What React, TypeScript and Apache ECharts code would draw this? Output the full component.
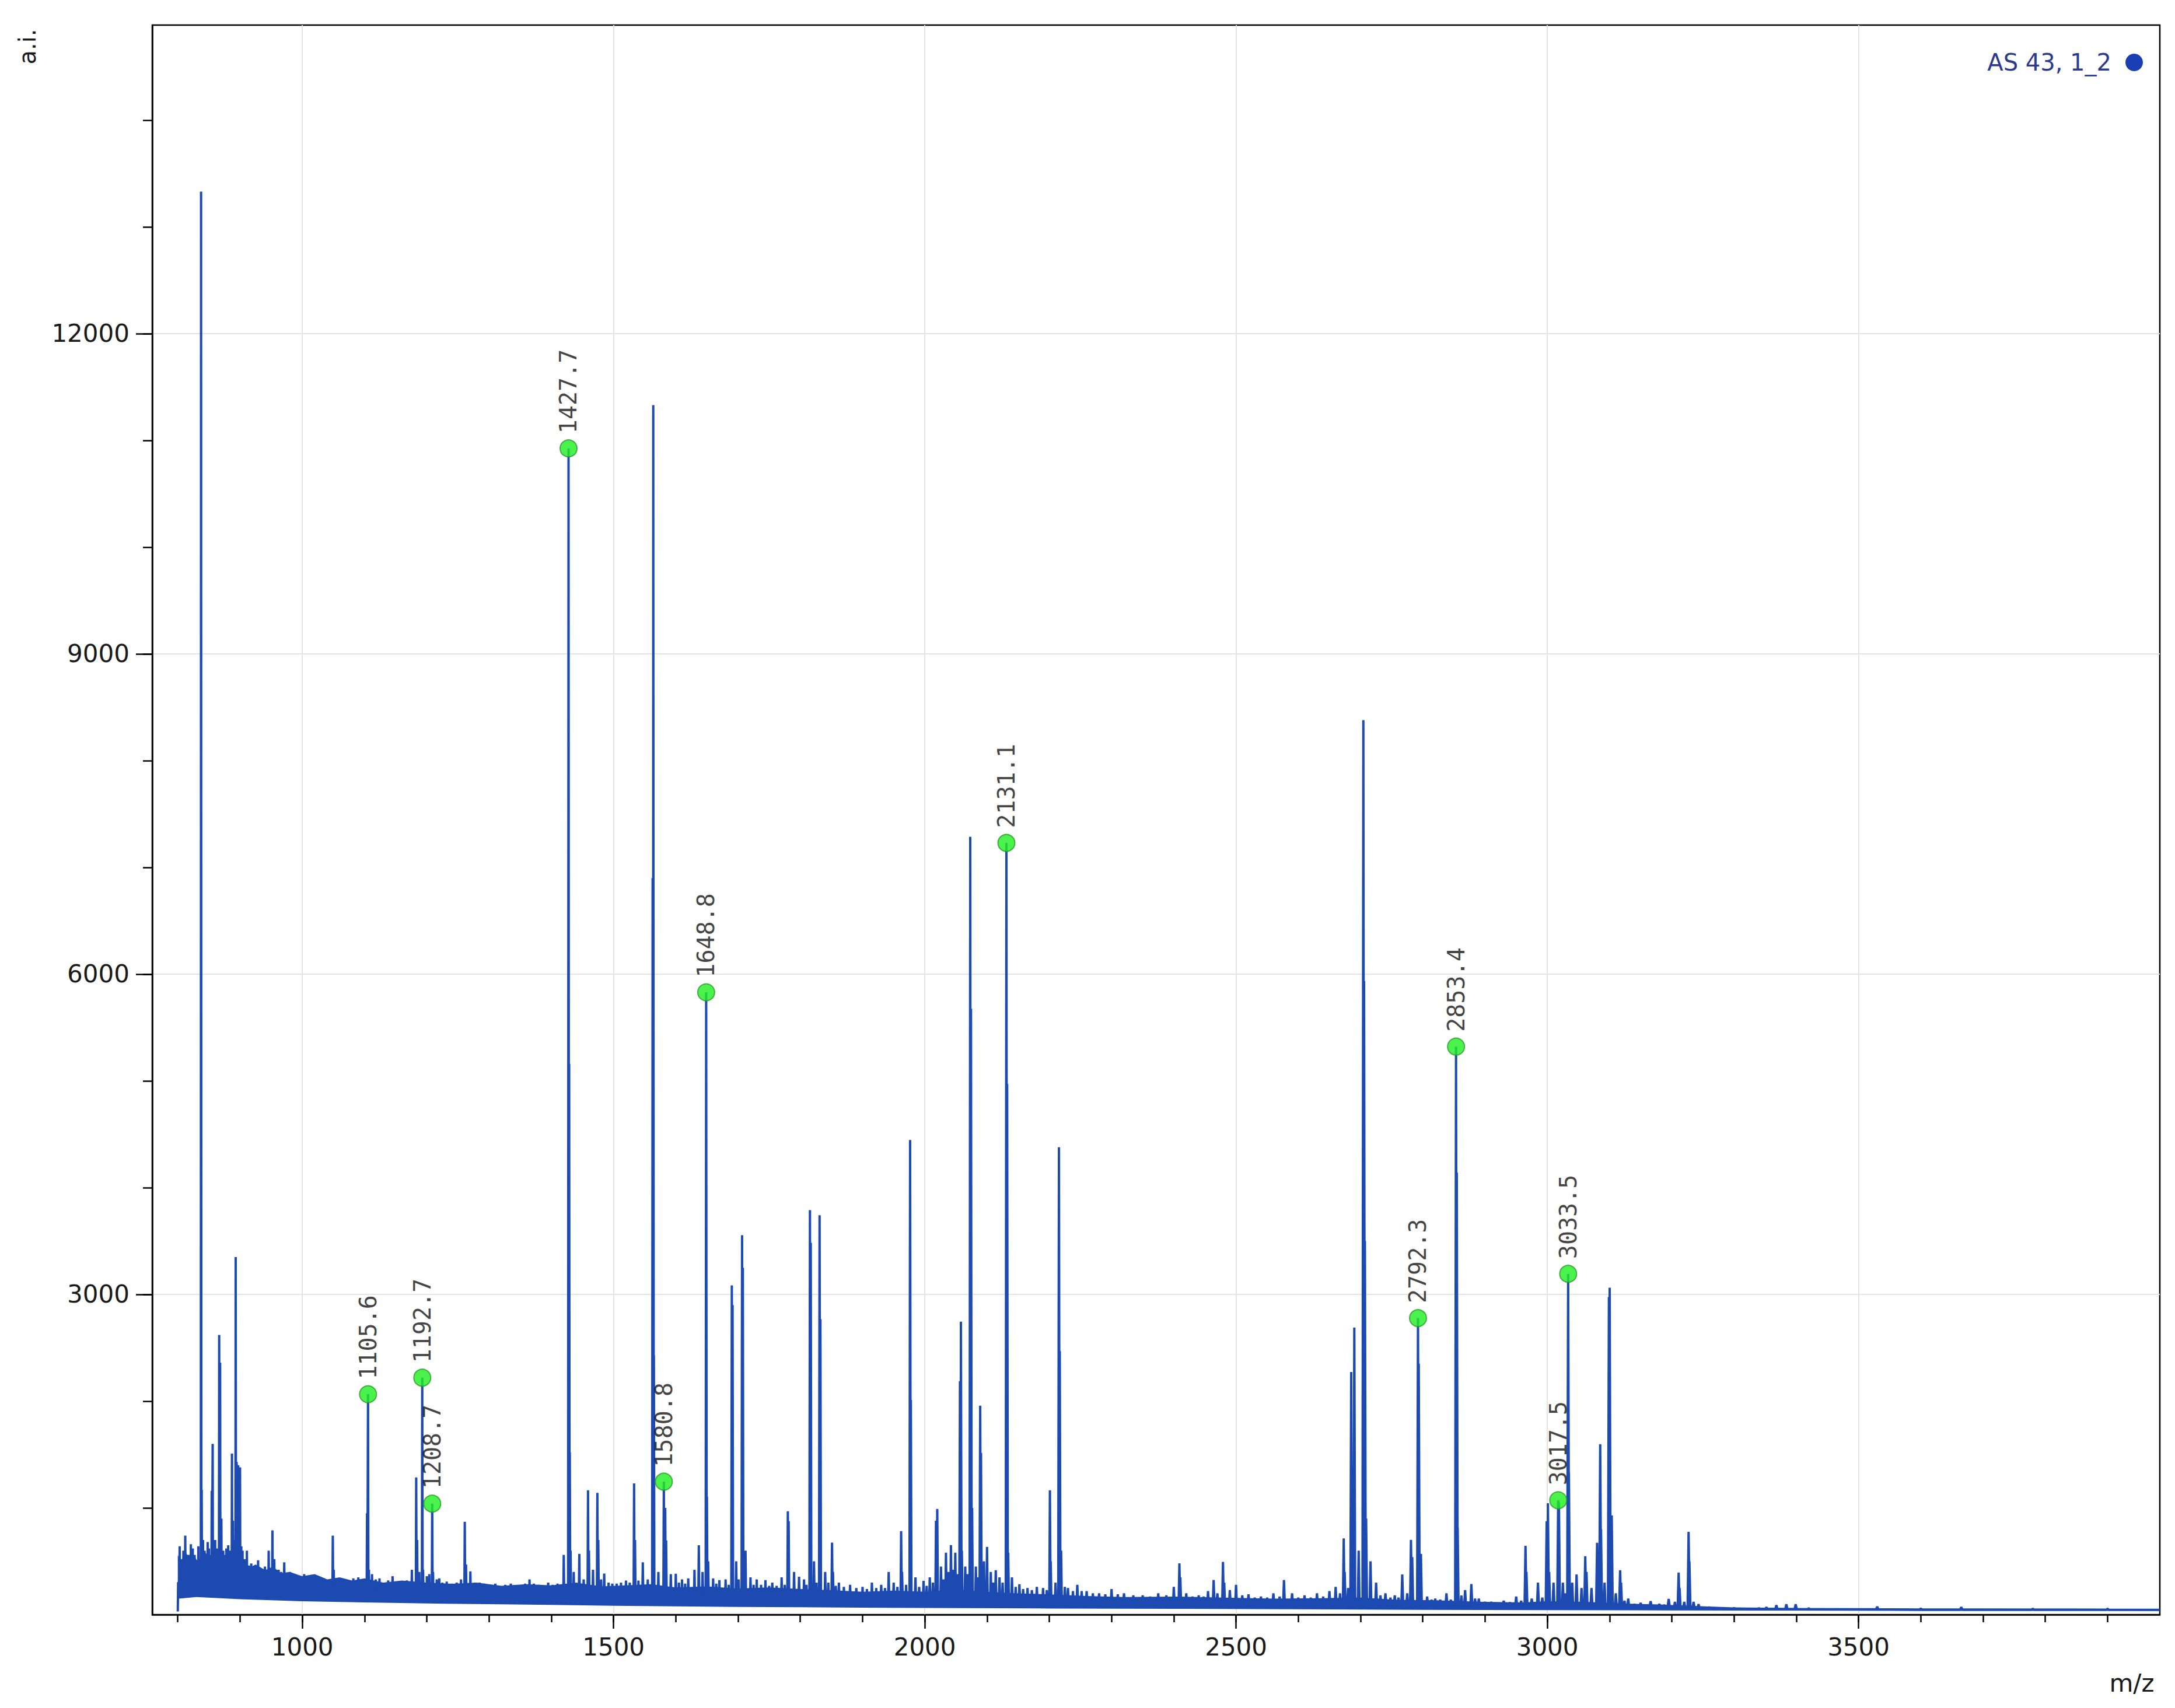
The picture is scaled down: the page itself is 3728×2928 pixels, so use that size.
import React, { useEffect, useRef } from 'react';
import * as echarts from 'echarts';

const BLUE = '#1d4ab0';
const X_MIN = 759;
const X_MAX = 3984;
const Y_MIN = 0;
const Y_MAX = 14890;

const xMajorTicks = [1000, 1500, 2000, 2500, 3000, 3500];
const xMinorTicks = [800, 900, 1000, 1100, 1200, 1300, 1400, 1500, 1600, 1700, 1800, 1900, 2000, 2100, 2200, 2300, 2400, 2500, 2600, 2700, 2800, 2900, 3000, 3100, 3200, 3300, 3400, 3500, 3600, 3700, 3800, 3900];
const yMajorTicks = [3000, 6000, 9000, 12000];
const yMinorTicks = [1000, 2000, 3000, 4000, 5000, 6000, 7000, 8000, 9000, 10000, 11000, 12000, 13000, 14000];

const seriesName = 'AS 43, 1_2';

// annotated peaks [m/z, intensity]
const labeledPeaks = [
  [1105.6, 2065], [1192.7, 2220], [1208.7, 1040], [1427.7, 10925], [1580.8, 1246], [1648.8, 5830],
  [2131.1, 7229], [2792.3, 2778], [2853.4, 5321], [3017.5, 1072], [3033.5, 3193],
];

// unlabelled peaks 800-1400
const peaksLow = [
  [803, 640], [806, 520], [809, 600], [812, 740], [815, 560], [818, 560], [821, 660], [824, 620], [827, 560],
  [829, 500], [833, 640], [837.4, 13330], [838.4, 1170], [840.5, 700], [843, 600], [846, 560], [848, 680],
  [850, 620], [852, 560], [854.5, 1160], [856, 1600], [858, 640], [860, 700], [863, 620], [866.5, 2620],
  [868, 2360], [870, 900], [873, 600], [876, 560], [878, 620], [881, 650], [884, 600], [887, 1510], [888.5, 880],
  [891, 700], [893, 3350], [894.5, 1430], [897, 1400], [900, 1380], [902, 640], [904, 600], [907, 520],
  [911, 600], [914, 460], [918, 480], [922, 440], [926, 420], [929, 510], [933, 430], [936, 400], [940, 450],
  [943, 420], [946, 600], [949, 440], [952, 790], [955, 520], [958, 420], [962, 420], [966, 400], [971, 490],
  [975, 380], [980, 400], [985, 380], [990, 370], [995, 360], [1003, 380], [1010, 330], [1016, 360],
  [1022, 300], [1028, 330], [1035, 340], [1042, 320], [1049, 740], [1050.5, 420], [1056, 340], [1062, 300],
  [1068, 330], [1075, 320], [1082, 340], [1090, 350], [1097, 330], [1104, 950], [1107, 420], [1112, 380],
  [1118, 330], [1124, 340], [1130, 300], [1138, 320], [1145, 360], [1152, 310], [1160, 300], [1168, 320],
  [1176, 420], [1183, 1285], [1184.5, 700], [1188, 400], [1194, 420], [1200, 360], [1204, 380], [1210, 400],
  [1216, 330], [1220, 340], [1225, 300], [1232, 310], [1240, 290], [1248, 300], [1255, 330], [1261, 870],
  [1263, 470], [1270, 405], [1277, 300], [1285, 300], [1292, 290], [1300, 280], [1310, 290], [1318, 260],
  [1326, 280], [1335, 290], [1342, 270], [1350, 260], [1358, 290], [1365, 330], [1372, 290], [1380, 280],
  [1388, 270], [1395, 300], [1402, 280], [1410, 290],
];

// unlabelled peaks 1400-2250
const peaksMid = [
  [1420, 560], [1428.7, 5160], [1429.7, 1520], [1431, 600], [1436, 400], [1445, 570], [1452, 330], [1459, 1165],
  [1460.5, 600], [1467, 420], [1474, 1140], [1475.5, 700], [1480, 330], [1485, 385], [1492, 300], [1498, 290],
  [1505, 290], [1512, 300], [1520, 320], [1526, 300], [1533, 1230], [1534.5, 700], [1540, 320], [1547, 490],
  [1555, 330], [1562.8, 6900], [1563.8, 11330], [1564.8, 2430], [1572, 400], [1583, 1000], [1584.5, 695],
  [1592, 380], [1600, 383], [1605, 300], [1610, 330], [1615, 290], [1620, 340], [1630, 420], [1637, 650],
  [1643, 400], [1650, 1105], [1652, 500], [1660, 340], [1665, 290], [1670, 323], [1680, 330], [1685, 280],
  [1690, 3085], [1691.2, 2900], [1697, 500], [1701, 330], [1706.5, 3555], [1707.7, 3250], [1712, 600],
  [1720, 350], [1725, 280], [1730, 330], [1737, 280], [1744, 323], [1750, 270], [1755, 300], [1762, 270],
  [1770, 350], [1775, 280], [1780, 968], [1781.3, 875], [1790, 400], [1798, 355], [1806, 330], [1810, 280],
  [1815.5, 3790], [1816.8, 3483], [1822, 500], [1826, 300], [1831, 3741], [1832.3, 2767], [1840, 400],
  [1845, 300], [1851, 675], [1852.5, 400], [1857, 270], [1862, 300], [1870, 260], [1880, 280], [1890, 250],
  [1900, 260], [1907, 240], [1915, 300], [1922, 250], [1930, 280], [1936, 250], [1942, 400], [1950, 300],
  [1956, 260], [1962, 782], [1963.5, 400], [1970, 280], [1976.4, 4446], [1977.6, 2012], [1985, 350],
  [1991, 260], [1998, 317], [2003, 270], [2008, 350], [2013, 300], [2018, 880], [2020, 990], [2026, 450],
  [2030, 330], [2034, 580], [2038, 400], [2042, 651], [2046, 420], [2049, 580], [2053, 380], [2056.5, 2187],
  [2058, 2745], [2059.5, 600], [2065, 450], [2069, 380], [2073, 7287], [2074.2, 5676], [2076, 1000],
  [2082, 450], [2086, 350], [2089, 1958], [2090.3, 1515], [2095, 500], [2100, 635], [2106, 400], [2110, 300],
  [2114, 416], [2120, 350], [2125, 300], [2132.3, 4971], [2134, 580], [2140, 350], [2146, 260], [2152, 285],
  [2158, 240], [2165, 250], [2172, 230], [2180, 260], [2190, 250], [2196, 230], [2201, 1165], [2202.3, 500],
  [2210, 300], [2215.5, 4378], [2216.8, 2468], [2219, 600], [2225, 260], [2230, 250], [2238, 220], [2245, 280],
];

// unlabelled peaks 2250-3984
const peaksHigh = [
  [2252, 220], [2260, 220], [2270, 200], [2280, 200], [2290, 190], [2300, 240], [2310, 190], [2320, 200],
  [2335, 180], [2350, 180], [2362, 170], [2375, 200], [2388, 180], [2400, 260], [2409, 480], [2410.5, 350],
  [2420, 200], [2430, 170], [2440, 180], [2448, 170], [2455, 220], [2464, 325], [2470, 200], [2479, 494],
  [2481, 300], [2490, 230], [2500, 280], [2510, 180], [2520, 190], [2530, 160], [2540, 170], [2550, 160],
  [2560, 200], [2570, 170], [2577, 325], [2590, 200], [2600, 160], [2610, 180], [2620, 160], [2630, 200],
  [2640, 170], [2650, 220], [2660, 260], [2667, 200], [2673, 714], [2674.5, 400], [2680, 250], [2685, 2273],
  [2690, 2690], [2697, 600], [2704.5, 8380], [2705.7, 5936], [2707, 3500], [2709, 900], [2716, 500],
  [2725, 300], [2732, 180], [2740, 200], [2748, 160], [2755, 180], [2761, 160], [2767, 377], [2775, 200],
  [2781, 700], [2783, 540], [2793.5, 2351], [2797, 569], [2807, 170], [2814, 140], [2820, 150], [2828, 140],
  [2838, 200], [2845, 140], [2854.6, 4140], [2856, 815], [2862, 180], [2868, 230], [2878, 287], [2884, 150],
  [2890, 150], [2900, 120], [2910, 120], [2920, 110], [2930, 130], [2940, 115], [2950, 170], [2958, 130],
  [2965, 645], [2966.5, 400], [2975, 150], [2985, 300], [2992, 160], [2999, 875], [3001, 1044], [3003, 400],
  [3010, 300], [3018.7, 1050], [3025, 300], [3029, 200], [3034.7, 1330], [3040, 300], [3047, 377],
  [3055, 250], [3061, 547], [3063, 400], [3071, 250], [3080, 673], [3085, 1597], [3086.3, 800], [3092, 300],
  [3099, 2975], [3100.2, 3062], [3103.5, 930], [3110, 200], [3117, 416], [3118.5, 300], [3124, 130],
  [3130, 150], [3140, 100], [3150, 110], [3158, 90], [3166, 126], [3180, 100], [3188, 90], [3195, 148],
  [3205, 120], [3211, 394], [3212.5, 250], [3220, 120], [3227, 776], [3228.3, 500], [3235, 120], [3243, 98],
  [3260, 70], [3300, 65], [3340, 62], [3352, 70], [3368, 88], [3384, 98], [3399, 98], [3420, 60], [3530, 75],
  [3600, 58], [3665, 70], [3780, 56], [3900, 55],
];

// centre line of the noise floor
const baseline = [
  [800, 30], [800.5, 300], [850, 300], [900, 270], [1000, 230], [1100, 215], [1200, 195], [1300, 185],
  [1400, 175], [1500, 170], [1600, 160], [1700, 150], [1800, 145], [1900, 135], [2000, 130], [2200, 118],
  [2400, 108], [2600, 100], [2800, 88], [3000, 78], [3200, 62], [3300, 52], [3400, 50], [3600, 47],
  [3800, 46], [3984, 45],
];

// noise band envelope
const noiseUpper = [
  [800, 560], [805, 480], [812, 600], [818, 520], [825, 560], [832, 500], [845, 580], [850, 520], [860, 560],
  [875, 500], [880, 560], [895, 500], [905, 520], [915, 440], [925, 470], [940, 420], [955, 440], [965, 390],
  [980, 400], [1000, 360], [1020, 380], [1040, 330], [1060, 350], [1080, 320], [1100, 340], [1130, 300],
  [1160, 320], [1200, 300], [1240, 290], [1280, 300], [1320, 270], [1360, 285], [1400, 275], [1440, 300],
  [1480, 265], [1520, 275], [1560, 285], [1600, 255], [1650, 265], [1700, 245], [1750, 255], [1800, 240],
  [1850, 230], [1900, 215], [1950, 225], [2000, 215], [2050, 235], [2100, 215], [2150, 200], [2200, 190],
  [2260, 175], [2320, 165], [2400, 170], [2480, 160], [2560, 150], [2640, 155], [2700, 160], [2760, 140],
  [2820, 135], [2900, 120], [2960, 115], [3000, 125], [3060, 120], [3120, 105], [3180, 95], [3240, 80],
  [3300, 68], [3400, 62], [3500, 60], [3600, 58], [3700, 57], [3800, 56], [3900, 55], [3984, 54],
];
const noiseLower = [
  [800, 30], [802, 150], [830, 165], [900, 145], [1000, 125], [1100, 115], [1200, 105], [1300, 98],
  [1400, 92], [1500, 84], [1600, 78], [1700, 72], [1800, 70], [1900, 66], [2000, 63], [2200, 58], [2400, 55],
  [2600, 50], [2800, 45], [3000, 42], [3200, 40], [3400, 38], [3600, 36], [3800, 35], [3984, 35],
];

function footAt(mz: number): number {
  let v = baseline[0][1];
  for (const p of baseline) {
    if (p[0] <= mz) v = p[1];
  }
  return v;
}

function buildSpectrum(): number[][] {
  const allPeaks = [...peaksLow, ...peaksMid, ...peaksHigh, ...labeledPeaks];
  const items: { key: number; pts: number[][] }[] = [];
  baseline.forEach((p) => items.push({ key: p[0], pts: [p] }));
  allPeaks.forEach(([mz, h]) => {
    const w = mz * 0.0005;
    const f = footAt(mz);
    items.push({ key: mz, pts: [[mz - w, f], [mz, h], [mz + w, f]] });
  });
  items.sort((a, b) => a.key - b.key);
  const out: number[][] = [];
  items.forEach((it) => it.pts.forEach((p) => out.push(p)));
  return out;
}

export default function App() {
  const ref = useRef<HTMLDivElement>(null);
  useEffect(() => {
    if (!ref.current) return;
    const chart = echarts.init(ref.current, null, { renderer: 'svg' });
    const font = 'DejaVu Sans';
    const plain = (v: number) => String(v);
    const option: any = {
      animation: false,
      backgroundColor: '#ffffff',
      grid: {
        left: 261, top: 43, right: 26, bottom: 160,
        show: true, borderColor: '#000', borderWidth: 2.5, backgroundColor: 'transparent',
      },
      legend: {
        data: [{ name: seriesName, icon: 'circle' }],
        right: 50, top: 82, align: 'right', itemWidth: 30, itemHeight: 30,
        textStyle: { fontFamily: font, fontSize: 40, color: '#2b3a8e', padding: [0, 19, 0, 0] },
        itemStyle: { color: '#1a3fb3' },
      },
      xAxis: [
        {
          type: 'value', min: X_MIN, max: X_MAX, position: 'bottom',
          axisLine: { show: true, onZero: false, lineStyle: { color: '#000', width: 2.5 } },
          axisTick: { show: true, inside: false, length: 24, customValues: xMajorTicks, lineStyle: { color: '#000', width: 2.5 } },
          axisLabel: { customValues: xMajorTicks, formatter: plain, margin: 34, fontFamily: font, fontSize: 42, color: '#1a1a1a' },
          splitLine: { show: true, lineStyle: { color: '#e4e4e4', width: 2 } },
        },
        {
          type: 'value', min: X_MIN, max: X_MAX, position: 'bottom',
          axisLine: { show: false },
          axisTick: { show: true, inside: false, length: 13, customValues: xMinorTicks, lineStyle: { color: '#000', width: 2.5 } },
          axisLabel: { show: false },
          splitLine: { show: false },
        },
      ],
      yAxis: [
        {
          type: 'value', min: Y_MIN, max: Y_MAX, position: 'left',
          axisLine: { show: true, onZero: false, lineStyle: { color: '#000', width: 2.5 } },
          axisTick: { show: true, inside: false, length: 28, customValues: yMajorTicks, lineStyle: { color: '#000', width: 2.5 } },
          axisLabel: { customValues: yMajorTicks, formatter: plain, margin: 39, fontFamily: font, fontSize: 42, color: '#1a1a1a' },
          splitLine: { show: true, lineStyle: { color: '#e4e4e4', width: 2 } },
        },
        {
          type: 'value', min: Y_MIN, max: Y_MAX, position: 'left',
          axisLine: { show: false },
          axisTick: { show: true, inside: false, length: 16, customValues: yMinorTicks, lineStyle: { color: '#000', width: 2.5 } },
          axisLabel: { show: false },
          splitLine: { show: false },
        },
      ],
      series: [
        {
          name: 'noise',
          type: 'custom',
          xAxisIndex: 0, yAxisIndex: 0,
          silent: true,
          clip: true,
          z: 2,
          data: [noiseUpper[0]],
          encode: { x: 0, y: 1 },
          renderItem: (params: any, api: any) => {
            if (params.dataIndex !== 0) return null;
            const pts = [
              ...noiseUpper.map((p) => api.coord(p)),
              ...noiseLower.slice().reverse().map((p) => api.coord(p)),
            ];
            return { type: 'polygon', shape: { points: pts }, style: { fill: BLUE } };
          },
        },
        {
          name: seriesName,
          type: 'line',
          xAxisIndex: 0, yAxisIndex: 0,
          data: buildSpectrum(),
          showSymbol: false,
          symbol: 'none',
          clip: true,
          z: 3,
          color: BLUE,
          lineStyle: { color: BLUE, width: 4 },
          silent: true,
        },
        {
          name: 'annotations',
          type: 'scatter',
          xAxisIndex: 0, yAxisIndex: 0,
          data: labeledPeaks,
          symbolSize: 29,
          z: 5,
          itemStyle: { color: '#1fef1f', borderColor: '#2a9a2a', borderWidth: 2 },
          label: {
            show: true, position: 'top', distance: 10, rotate: 90, align: 'left', verticalAlign: 'middle',
            formatter: (p: any) => p.value[0].toFixed(1),
            fontFamily: 'DejaVu Sans Mono', fontSize: 40, color: '#111',
          },
          silent: true,
        },
      ],
      graphic: [
        {
          type: 'text', x: 47, y: 80, rotation: Math.PI / 2,
          style: { text: 'a.i.', fontFamily: font, fontSize: 40, fill: '#1a1a1a', textAlign: 'center', textVerticalAlign: 'middle' },
        },
        {
          type: 'text', x: 3654, y: 2885,
          style: { text: 'm/z', fontFamily: font, fontSize: 42, fill: '#1a1a1a', textAlign: 'center', textVerticalAlign: 'middle' },
        },
      ],
    };
    chart.setOption(option);
    return () => chart.dispose();
  }, []);
  return (
    <div
      ref={ref}
      style={{ position: 'fixed', left: 0, top: 0, width: 3728, height: 2928, background: '#fff' }}
    />
  );
}
